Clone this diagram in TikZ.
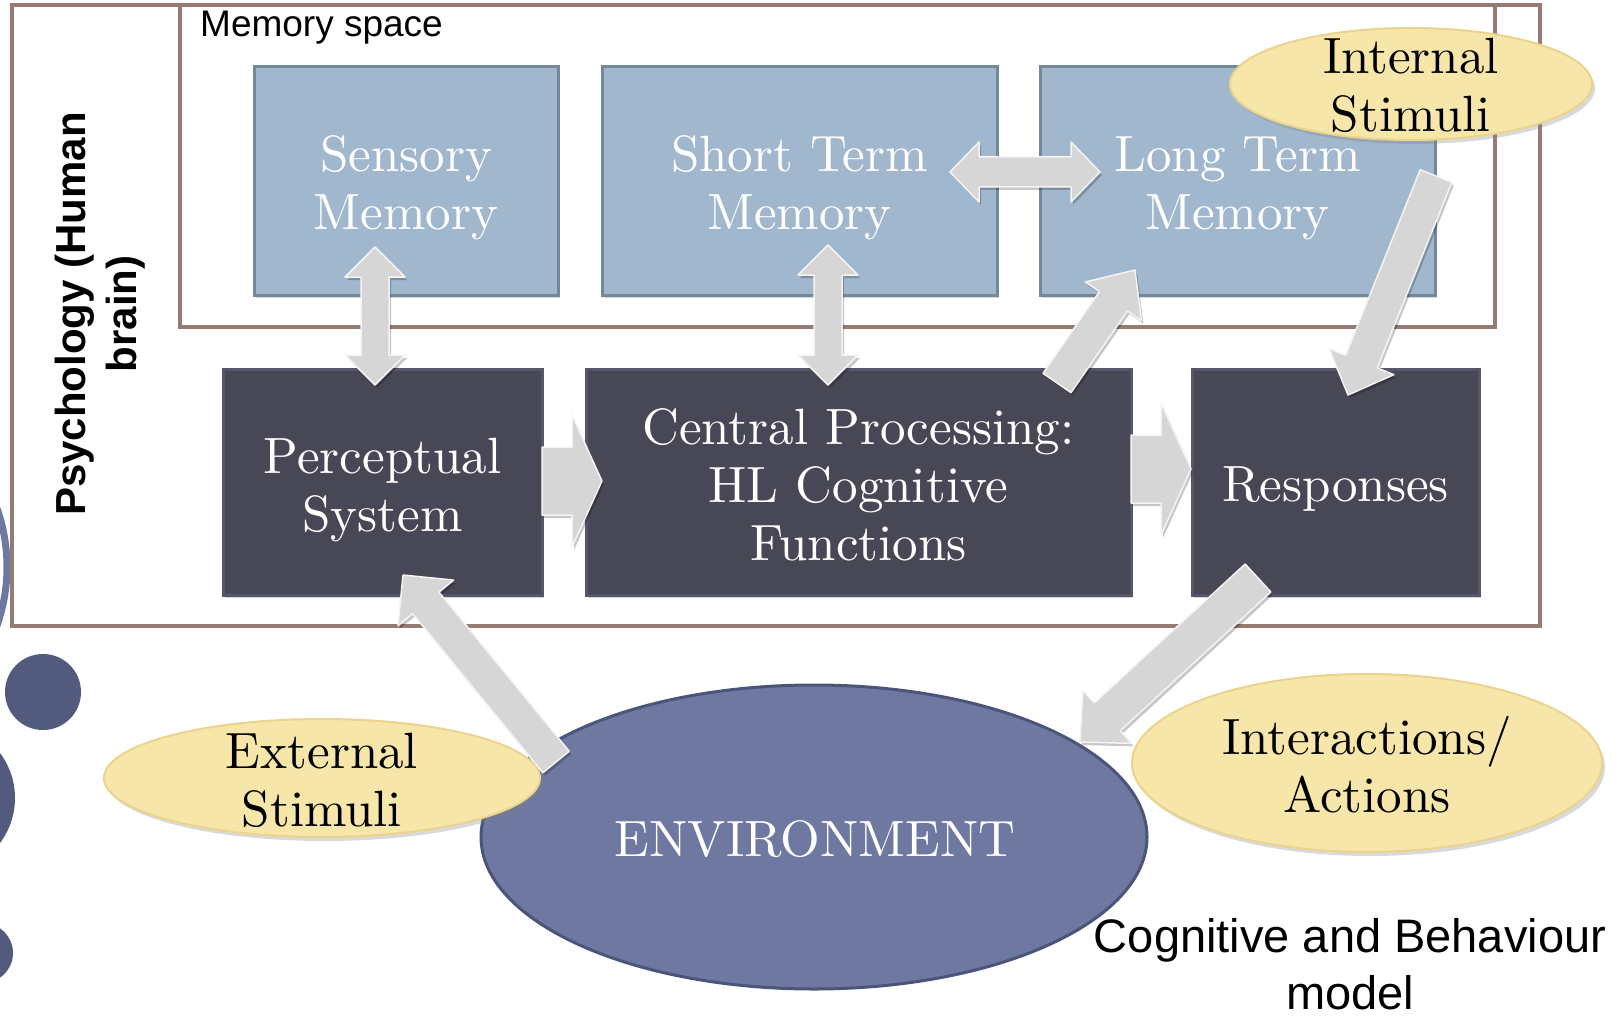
\documentclass[tikz,border=0pt]{standalone}
\usepackage{fontspec}
\newfontfamily\arialfont{Liberation Sans}
\newfontfamily\serifface{lmroman10-regular.otf}
\usetikzlibrary{calc,shadows,shapes.geometric}
\definecolor{brownline}{HTML}{957B71}
\definecolor{memblue}{HTML}{A1B7CE}
\definecolor{memedge}{HTML}{74889B}
\definecolor{darkfill}{HTML}{474756}
\definecolor{darkedge}{HTML}{56566A}
\definecolor{envfill}{HTML}{6E78A0}
\definecolor{envedge}{HTML}{4B5479}
\definecolor{yelfill}{HTML}{F7E6AA}
\definecolor{yeledge}{HTML}{E9D38D}
\definecolor{dotfill}{HTML}{525A7E}
\definecolor{arrowfill}{HTML}{D6D6D6}
\definecolor{arrowedge}{HTML}{F4F4F4}

\newcommand\serifbig{\serifface\fontsize{51}{58}\selectfont}

\tikzset{
  frame/.style={draw=brownline, line width=4pt},
  membox/.style={rectangle, fill=memblue, draw=memedge, line width=3pt, inner sep=0pt,
     drop shadow={shadow xshift=2pt, shadow yshift=-3pt, opacity=.3}},
  darkbox/.style={rectangle, fill=darkfill, draw=darkedge, line width=3pt, inner sep=0pt,
     drop shadow={shadow xshift=2pt, shadow yshift=-3pt, opacity=.35}},
  yellowell/.style={ellipse, fill=yelfill, draw=yeledge, line width=2pt, inner sep=0pt,
     drop shadow={shadow xshift=3pt, shadow yshift=-4pt, opacity=.3}},
  envell/.style={ellipse, fill=envfill, draw=envedge, line width=3pt, inner sep=0pt},
  seriftext/.style={align=center, font=\serifbig, inner sep=0pt},
  boxtext/.style={seriftext, text=white},
  blockarrow/.style={fill=arrowfill, draw=arrowedge, line width=1.5pt, line join=round},
  arrowshadow/.style={fill=black, opacity=.22},
}

% double-headed block arrow: from #1 to #2, half shaft #3, half head #4, head length #5
\newcommand\dblarrow[5]{%
  \pgfpointdiff{\pgfpointanchor{#1}{center}}{\pgfpointanchor{#2}{center}}%
  \pgfgetlastxy{\arrdx}{\arrdy}%
  \pgfmathsetmacro\arrang{atan2(\arrdy,\arrdx)}%
  \pgfmathsetmacro\arrlen{veclen(\arrdx,\arrdy)}%
  \fill[arrowshadow, shift={(#1)}, xshift=2pt, yshift=-3pt, rotate=\arrang]
    (0,0) -- (#5,#4) -- (#5,#3) -- ({\arrlen-#5},#3) -- ({\arrlen-#5},#4) -- (\arrlen,0)
    -- ({\arrlen-#5},-#4) -- ({\arrlen-#5},-#3) -- (#5,-#3) -- (#5,-#4) -- cycle;
  \filldraw[blockarrow, shift={(#1)}, rotate=\arrang]
    (0,0) -- (#5,#4) -- (#5,#3) -- ({\arrlen-#5},#3) -- ({\arrlen-#5},#4) -- (\arrlen,0)
    -- ({\arrlen-#5},-#4) -- ({\arrlen-#5},-#3) -- (#5,-#3) -- (#5,-#4) -- cycle;
}
% single-headed block arrow
\newcommand\sglarrow[5]{%
  \pgfpointdiff{\pgfpointanchor{#1}{center}}{\pgfpointanchor{#2}{center}}%
  \pgfgetlastxy{\arrdx}{\arrdy}%
  \pgfmathsetmacro\arrang{atan2(\arrdy,\arrdx)}%
  \pgfmathsetmacro\arrlen{veclen(\arrdx,\arrdy)}%
  \fill[arrowshadow, shift={(#1)}, xshift=2pt, yshift=-3pt, rotate=\arrang]
    (0,#3) -- ({\arrlen-#5},#3) -- ({\arrlen-#5},#4) -- (\arrlen,0)
    -- ({\arrlen-#5},-#4) -- ({\arrlen-#5},-#3) -- (0,-#3) -- cycle;
  \filldraw[blockarrow, shift={(#1)}, rotate=\arrang]
    (0,#3) -- ({\arrlen-#5},#3) -- ({\arrlen-#5},#4) -- (\arrlen,0)
    -- ({\arrlen-#5},-#4) -- ({\arrlen-#5},-#3) -- (0,-#3) -- cycle;
}

\begin{document}
\begin{tikzpicture}[x=1pt, y=-1pt]
\useasboundingbox (0,0) rectangle (1621,1016);
\clip (0,0) rectangle (1621,1016);

% decorative circles at the left edge
\draw[envfill, line width=7pt] (-168,567) circle[radius=175];
\fill[dotfill] (43,692) circle[radius=38];
\fill[dotfill] (-60,798) circle[radius=75];
\fill[dotfill] (-17,953) circle[radius=30];

% frames
\draw[frame] (12,5) rectangle (1540,626);
\draw[frame] (180,5) rectangle (1495,327);
\node[anchor=base west, inner sep=0pt, font=\arialfont\fontsize{37}{44}\selectfont] (memlbl) at (200,37) {Memory space};
\node[rotate=90, align=center, inner sep=0pt, font=\arialfont\bfseries\fontsize{42}{51}\selectfont] (psylbl) at (100,314) {Psychology (Human\\brain)};

% memory boxes
\node[membox, minimum width=304pt, minimum height=228pt] (sens) at (406,181) {};
\node[membox, minimum width=395pt, minimum height=228pt] (stm) at (799.5,181) {};
\node[membox, minimum width=395pt, minimum height=228pt] (ltm) at (1237.5,181) {};
\node[boxtext] (senslbl) at ($(sens)+(0,7)$) {Sensory\\Memory};
\node[boxtext] (stmlbl) at ($(stm)+(0,7)$) {Short Term\\Memory};
\node[boxtext] (ltmlbl) at ($(ltm)+(0,7)$) {Long Term\\Memory};

% processing boxes
\node[darkbox, minimum width=319pt, minimum height=226pt] (perc) at (382.5,482) {};
\node[darkbox, minimum width=545pt, minimum height=226pt] (cent) at (858.5,482) {};
\node[darkbox, minimum width=287pt, minimum height=226pt] (resp) at (1335.5,482) {};
\node[boxtext] (perclbl) at ($(perc)+(0,8)$) {Perceptual\\System};
\node[boxtext] (centlbl) at ($(cent)+(0,3)$) {Central Processing:\\HL Cognitive\\Functions};
\node[boxtext] (resplbl) at ($(resp)+(0,7)$) {Responses};

% environment and stimuli
\node[envell, minimum width=666pt, minimum height=304pt] (env) at (814,837) {};
\node[boxtext] (envlbl) at (815,839) {ENVIRONMENT};
\node[yellowell, minimum width=436pt, minimum height=118pt] (ext) at (322,778) {};
\node[seriftext] (extlbl) at (322,780) {External\\Stimuli};
\node[yellowell, minimum width=470pt, minimum height=178pt] (inter) at (1367,763) {};
\node[seriftext] (interlbl) at (1367,765) {Interactions/\\Actions};
\node[yellowell, minimum width=362pt, minimum height=112pt] (int) at (1411,84) {};
\node[seriftext] (intlbl) at (1411,85) {Internal\\Stimuli};

\node[align=center, inner sep=0pt, font=\arialfont\fontsize{47}{57}\selectfont] (model) at (1350,964) {Cognitive and Behaviour\\model};

% arrow end points
\coordinate (stmR) at (950,172);
\coordinate (ltmL) at (1100,172);
\coordinate (sensB) at (375,247);
\coordinate (percT) at (375,385);
\coordinate (stmB) at (828,245);
\coordinate (centT) at (828,385);
\coordinate (centTR) at (1057,383);
\coordinate (ltmB) at (1135,270);
\coordinate (intB) at (1436,176);
\coordinate (respT) at (1348,395);
\coordinate (percR) at (542,481);
\coordinate (centL) at (602,481);
\coordinate (centR) at (1131,469);
\coordinate (respL) at (1191,469);
\coordinate (envTL) at (556,762);
\coordinate (percB) at (403,575);
\coordinate (respB) at (1258,578);
\coordinate (envTR) at (1080,742);

% block arrows
\dblarrow{stmR}{ltmL}{15}{30}{29}
\dblarrow{sensB}{percT}{14}{30}{30}
\dblarrow{stmB}{centT}{14}{30}{30}
\sglarrow{centTR}{ltmB}{17}{34}{38}
\sglarrow{intB}{respT}{17}{35}{36}
\sglarrow{percR}{centL}{34}{66}{30}
\sglarrow{centR}{respL}{34}{66}{30}
\sglarrow{envTL}{percB}{17}{36}{36}
\sglarrow{respB}{envTR}{19}{36}{37}
\end{tikzpicture}
\end{document}
